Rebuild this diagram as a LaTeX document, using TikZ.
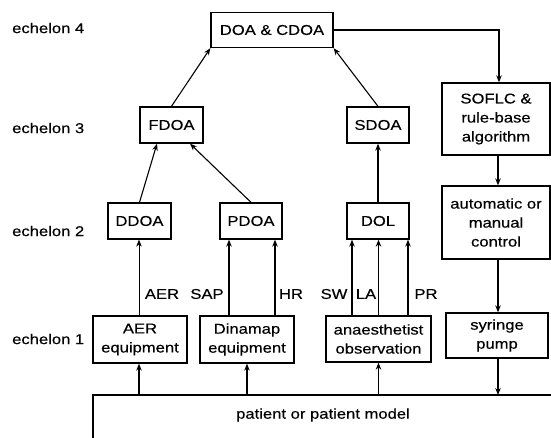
\documentclass[tikz,border=0pt]{standalone}
\usepackage{fontspec}
\setmainfont{Liberation Sans}[FakeStretch=1.17,FakeBold=0.4]
\usetikzlibrary{arrows.meta}
\begin{document}
\begin{tikzpicture}[x=1pt,y=-1pt,
  every node/.style={font=\fontsize{14.2}{19}\selectfont},
  box/.style={draw,line width=1.3pt,inner sep=0pt,align=center},
  lab/.style={inner sep=0pt},
  arr/.style={line width=1.1pt,-{Stealth[length=7pt,width=5.5pt]}},
  thinarr/.style={line width=0.6pt,-{Stealth[length=7pt,width=5.5pt]}}]
\useasboundingbox (0,0) rectangle (551,438);
% echelon labels
\node[lab,anchor=west] (e4) at (12,28) {echelon 4};
\node[lab,anchor=west] (e3) at (12,128) {echelon 3};
\node[lab,anchor=west] (e2) at (12,231) {echelon 2};
\node[lab,anchor=west] (e1) at (12,339) {echelon 1};
% boxes
\node[box,minimum width=122pt,minimum height=35pt] (doa) at (272,30) {DOA \& CDOA};
\node[box,minimum width=63pt,minimum height=36pt] (fdoa) at (171.5,125) {FDOA};
\node[box,minimum width=62pt,minimum height=36pt] (sdoa) at (378,125) {SDOA};
\node[box,minimum width=108pt,minimum height=72pt] (soflc) at (496,119) {SOFLC \&\\rule-base\\algorithm};
\node[box,minimum width=63pt,minimum height=36pt] (ddoa) at (139.5,221) {DDOA};
\node[box,minimum width=62pt,minimum height=36pt] (pdoa) at (251,221) {PDOA};
\node[box,minimum width=62pt,minimum height=36pt] (dol) at (378,221) {DOL};
\node[box,minimum width=108pt,minimum height=73pt] (auto) at (496,222.5) {automatic or\\manual\\control};
\node[box,minimum width=94pt,minimum height=47pt] (aer) at (140,339.5) {AER\\equipment};
\node[box,minimum width=94pt,minimum height=47pt] (dina) at (247,339.5) {Dinamap\\equipment};
\node[box,minimum width=105pt,minimum height=46pt] (anae) at (378.5,339) {anaesthetist\\observation};
\node[box,minimum width=102pt,minimum height=45pt] (syr) at (497,335.5) {syringe\\pump};
% patient
\coordinate (ptl) at (93,395);
\coordinate (ptr) at (551,395);
\coordinate (pbl) at (93,438);
\draw[line width=1.3pt] (ptr) -- (ptl) -- (pbl);
\node[lab] (pat) at (323,415) {patient or patient model};
% upper arrows
\draw[arr] (fdoa.north) -- (doa.south west);
\draw[arr] (sdoa.north) -- (doa.south east);
\draw[arr] (ddoa.north) -- ([xshift=-14.5pt]fdoa.south);
\draw[arr] (pdoa.north) -- ([xshift=18.5pt]fdoa.south);
\draw[arr] (dol.north) -- (sdoa.south);
\draw[arr] (doa.east) -| ([xshift=3pt]soflc.north);
\draw[arr] ([xshift=2pt]soflc.south) -- ([xshift=2pt]auto.north);
\draw[arr] ([xshift=2pt]auto.south) -- ([xshift=1pt]syr.north);
\draw[arr] ([xshift=1pt]syr.south) -- ([xshift=1pt]syr.south |- ptl);
% echelon 1 to 2
\draw[thinarr] ([xshift=-1pt]aer.north) -- ([xshift=-1pt]aer.north |- ddoa.south);
\draw[arr] ([xshift=-18pt]dina.north) -- ([xshift=-18pt]dina.north |- pdoa.south);
\draw[arr] ([xshift=28pt]dina.north) -- ([xshift=28pt]dina.north |- pdoa.south);
\draw[arr] ([xshift=-26.5pt]anae.north) -- ([xshift=-26.5pt]anae.north |- dol.south);
\draw[arr] (anae.north) -- (anae.north |- dol.south);
\draw[arr] ([xshift=29.5pt]anae.north) -- ([xshift=29.5pt]anae.north |- dol.south);
% patient to echelon 1
\draw[arr] ([xshift=-1pt]aer.south |- ptl) -- ([xshift=-1pt]aer.south);
\draw[arr] (dina.south |- ptl) -- (dina.south);
\draw[arr] (anae.south |- ptl) -- (anae.south);
% signal labels
\node[lab] (laer) at (162,294) {AER};
\node[lab] (lsap) at (207,294) {SAP};
\node[lab] (lhr) at (291,294) {HR};
\node[lab] (lsw) at (334,294) {SW};
\node[lab] (lla) at (366,294) {LA};
\node[lab] (lpr) at (426,294) {PR};
\end{tikzpicture}
\end{document}
